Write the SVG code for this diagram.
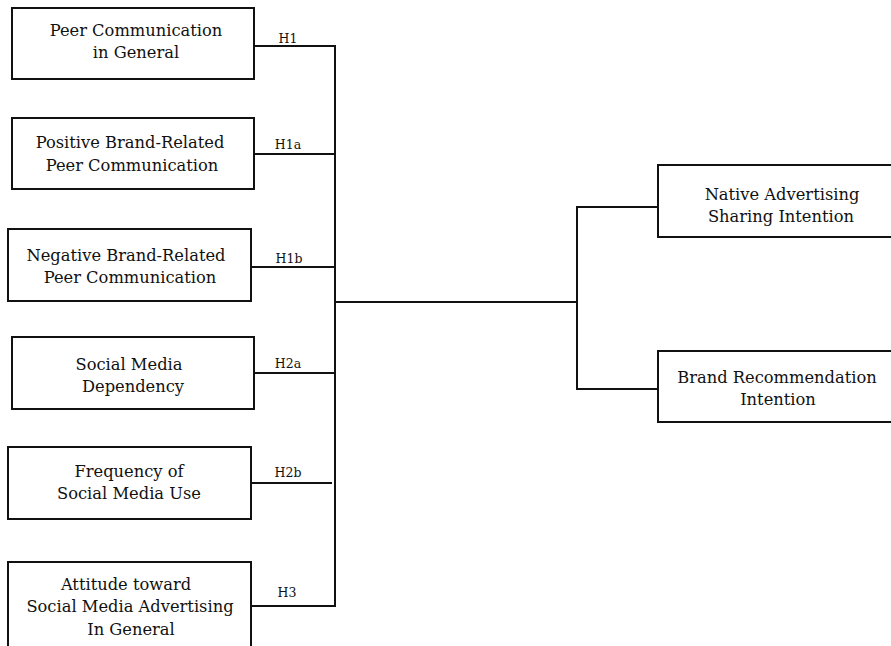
<svg xmlns="http://www.w3.org/2000/svg" width="891" height="646" viewBox="0 0 891 646">
<style>
.box{fill:#fff;stroke:#111;stroke-width:2}
.t{font-family:"DejaVu Serif","Liberation Serif",serif;font-size:16.3px;fill:#111;text-anchor:middle}
.h{font-family:"DejaVu Serif","Liberation Serif",serif;font-size:12.5px;fill:#111;text-anchor:middle}
.c{fill:none;stroke:#111;stroke-width:2}
</style>
<rect width="891" height="646" fill="#fff"/>
<g id="connectors">
<path class="c" d="M254 46H335M254 154H335M251 267H335M254 373H335M251 483H332M251 606H335M335 45V607M335 302H578M577 206V390M577 207H658M577 389H658"/>
</g>
<g id="labels">
<text class="h" x="288" y="43">H1</text>
<text class="h" x="288" y="149">H1a</text>
<text class="h" x="289" y="263">H1b</text>
<text class="h" x="288" y="368">H2a</text>
<text class="h" x="288" y="477">H2b</text>
<text class="h" x="287" y="597">H3</text>
</g>
<g id="n1"><rect class="box" x="12" y="8" width="242" height="71"/>
<text class="t" x="136" y="36">Peer Communication</text><text class="t" x="136" y="58">in General</text></g>
<g id="n2"><rect class="box" x="12" y="118" width="242" height="71"/>
<text class="t" x="130" y="148">Positive Brand-Related</text><text class="t" x="132" y="171">Peer Communication</text></g>
<g id="n3"><rect class="box" x="8" y="229" width="243" height="72"/>
<text class="t" x="126" y="261">Negative Brand-Related</text><text class="t" x="130" y="283">Peer Communication</text></g>
<g id="n4"><rect class="box" x="12" y="337" width="242" height="72"/>
<text class="t" x="129" y="370">Social Media</text><text class="t" x="133" y="392">Dependency</text></g>
<g id="n5"><rect class="box" x="8" y="447" width="243" height="72"/>
<text class="t" x="129" y="477">Frequency of</text><text class="t" x="129" y="499">Social Media Use</text></g>
<g id="n6"><rect class="box" x="8" y="562" width="243" height="90"/>
<text class="t" x="126" y="590">Attitude toward</text><text class="t" x="130" y="612">Social Media Advertising</text><text class="t" x="131" y="635">In General</text></g>
<g id="n7"><rect class="box" x="658" y="165" width="240" height="72"/>
<text class="t" x="782" y="200">Native Advertising</text><text class="t" x="781" y="222">Sharing Intention</text></g>
<g id="n8"><rect class="box" x="658" y="351" width="240" height="71"/>
<text class="t" x="777" y="383">Brand Recommendation</text><text class="t" x="778" y="405">Intention</text></g>
</svg>
